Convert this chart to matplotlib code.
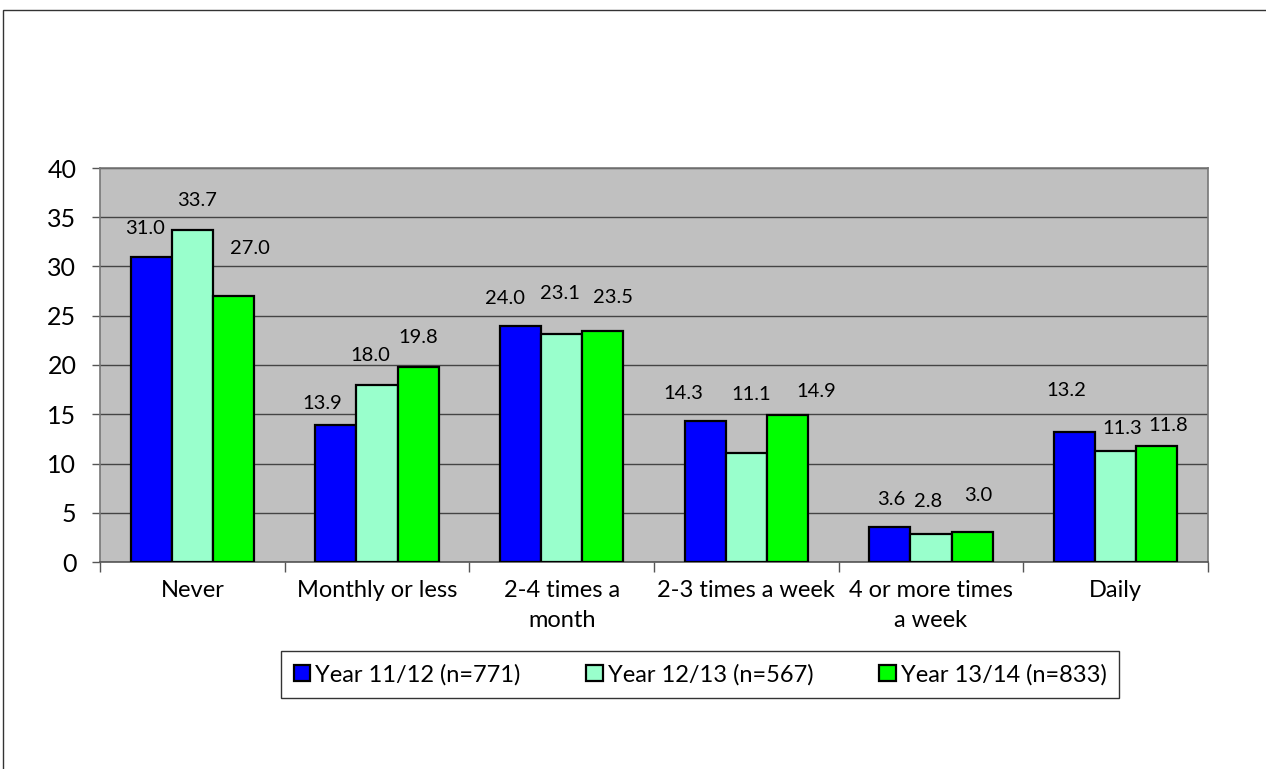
import numpy as np
import matplotlib
matplotlib.use('Agg')
import matplotlib.pyplot as plt
from matplotlib.patches import Rectangle

categories = ['Never', 'Monthly or less', '2-4 times a\nmonth', '2-3 times a week',
              '4 or more times\na week', 'Daily']
series_names = ['Year 11/12 (n=771)', 'Year 12/13 (n=567)', 'Year 13/14 (n=833)']
y1112 = [31.0, 13.9, 24.0, 14.3, 3.6, 13.2]
y1213 = [33.7, 18.0, 23.1, 11.1, 2.8, 11.3]
y1314 = [27.0, 19.8, 23.5, 14.9, 3.0, 11.8]
yticks = [0, 5, 10, 15, 20, 25, 30, 35, 40]

colors = ['#0000FF', '#99FFCC', '#00FF00']
# label offsets in pixels from the top of each bar (Excel put them a bit everywhere)
label_offsets = [
	[(-6, 28), (-14, 22), (-15, 27), (-22, 28), (1, 27), (-8, 41)],
	[(5, 30), (-7, 29), (-2, 41), (5, 58), (-3, 33), (7, 22)],
	[(16, 48), (0, 29), (10, 33), (29, 24), (6, 37), (11, 20)],
]

plt.rcParams['font.family'] = ['Lato', 'DejaVu Sans']

fig = plt.figure(figsize=(12.66, 7.69), dpi=100)
ax = fig.add_axes([100/1266, 207/769, 1108/1266, 394/769])
ax.set_facecolor('#C0C0C0')

x = np.arange(len(categories))
w = 0.223
for i, vals in enumerate([y1112, y1213, y1314]):
	pos = x + (i - 1) * w
	bars = ax.bar(pos, vals, w, color=colors[i], edgecolor='black', linewidth=1.6,
	              label=series_names[i], zorder=3)
	for j, b in enumerate(bars):
		ax.annotate('%.1f' % vals[j], (b.get_x() + b.get_width()/2, b.get_height()),
		            xytext=label_offsets[i][j], textcoords='offset pixels',
		            ha='center', va='center', fontsize=14.5, color='black', zorder=4)

ax.set_ylim(0, 40)
ax.set_xlim(-0.5, 5.5)
ax.set_yticks(yticks)
ax.yaxis.grid(True, color='#444444', linewidth=1.0, zorder=1)
ax.tick_params(axis='y', direction='out', length=6, width=1, color='#555555',
               labelsize=18, pad=11)

ax.set_xticks(x)
ax.set_xticklabels(categories, fontsize=17, linespacing=1.55)
ax.set_xticks(np.arange(-0.5, 6, 1), minor=True)
ax.tick_params(axis='x', which='major', length=0, pad=13)
ax.tick_params(axis='x', which='minor', direction='out', length=7, width=1, color='#555555')

for s in ['left', 'bottom', 'right', 'top']:
	ax.spines[s].set_color('#777777')
	ax.spines[s].set_linewidth(1.2)
ax.spines['bottom'].set_color('#555555')

leg = fig.legend(loc='center', bbox_to_anchor=(700/1266, 1 - 674.5/769), ncol=3,
                 fontsize=17, frameon=True, fancybox=False, edgecolor='black',
                 handlelength=0.7, handleheight=0.7, handletextpad=0.2,
                 columnspacing=2.8, borderpad=0.55, borderaxespad=0)
leg.get_frame().set_linewidth(1.0)

# outer frame of the chart object, cut off at right and bottom
fig.patches.append(Rectangle((3/1266, -0.1), 1.2, 1.1 - 10/769, transform=fig.transFigure,
                             fill=False, edgecolor='#333333', linewidth=1.0))

fig.savefig('out.png', dpi=100)
